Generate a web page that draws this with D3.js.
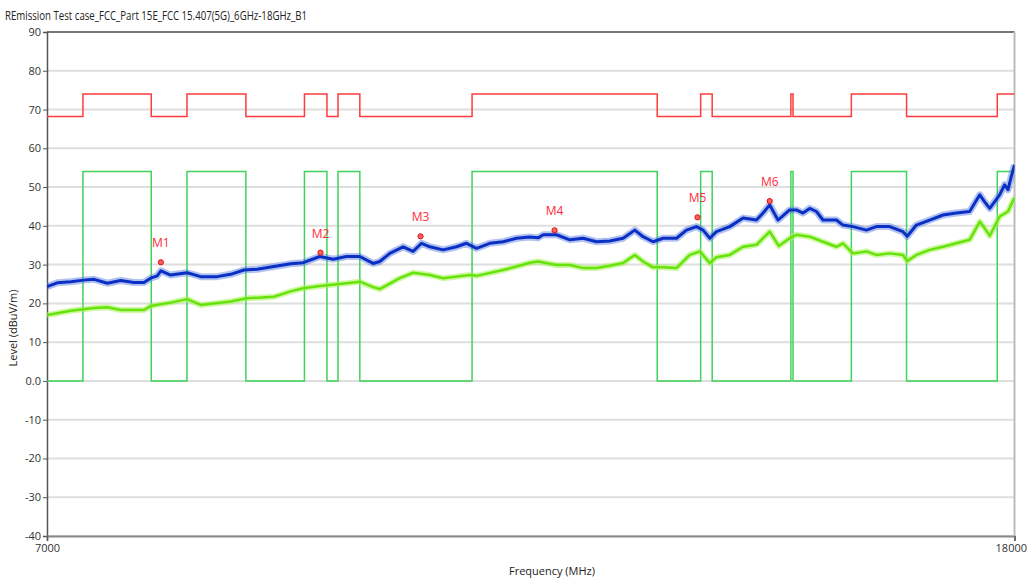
<!DOCTYPE html>
<html>
<head>
<meta charset="utf-8">
<script src="https://cdn.jsdelivr.net/npm/d3@7"></script>
<style>
  body { margin: 0; background: #fff; }
  svg { display: block; font-family: 'Open Sans', 'Noto Sans', sans-serif; }
</style>
</head>
<body>
<div id="graphContainer"></div>
<script>
// restricted band edges (MHz) and limit value per segment
const limitFreqs = [7000, 7250, 7750, 8025, 8500, 9000, 9200, 9300, 9500, 10600,
  12700, 13250, 13400, 14470, 14500, 15350, 16200, 17700, 18000];
const peakLimit = [68.2, 74, 68.2, 74, 68.2, 74, 68.2, 74, 68.2, 74, 68.2, 74, 68.2, 74, 68.2, 74, 68.2, 74];
const avgLimit = [0, 54, 0, 54, 0, 54, 0, 54, 0, 54, 0, 54, 0, 54, 0, 54, 0, 54];

// peak trace (blue)
const peakFreqs = [7000, 7070, 7165, 7255, 7330, 7425, 7522, 7620, 7695, 7745, 7795, 7823, 7898, 8027,
  8133, 8265, 8374, 8484, 8594, 8735, 8879, 8989, 9136, 9256, 9377, 9500, 9624, 9687, 9782, 9910,
  10007, 10090, 10172, 10305, 10440, 10543, 10646, 10785, 10926, 11070, 11214, 11306, 11362, 11511,
  11662, 11814, 11969, 12126, 12284, 12425, 12526, 12649, 12773, 12941, 13068, 13196, 13282, 13369,
  13456, 13632, 13810, 13992, 14082, 14174, 14289, 14453, 14548, 14642, 14738, 14835, 14931, 15127,
  15225, 15374, 15577, 15729, 15935, 16143, 16210, 16356, 16569, 16786, 17007, 17229, 17400, 17483,
  17570, 17741, 17828, 17885, 17943, 18000];
const peakLevels = [24.3, 25.3, 25.6, 26.0, 26.2, 25.2, 25.9, 25.4, 25.4, 26.5, 27.1, 28.4, 27.3, 27.9,
  26.9, 26.9, 27.5, 28.6, 28.8, 29.5, 30.2, 30.5, 32.1, 31.4, 32.1, 32.1, 30.3, 30.8, 32.9, 34.6,
  33.4, 35.5, 34.6, 33.8, 34.6, 35.5, 34.2, 35.5, 35.9, 36.8, 37.1, 36.9, 37.7, 37.7,
  36.4, 36.8, 35.9, 36.1, 36.8, 38.9, 37.2, 35.9, 36.8, 36.8, 38.9, 39.8, 38.9, 36.8,
  38.5, 39.8, 42.0, 41.5, 43.3, 45.4, 41.5, 44.1, 44.1, 43.3, 44.5, 43.7, 41.5, 41.5,
  40.2, 39.8, 38.9, 39.8, 39.8, 38.5, 37.3, 40.2, 41.5, 42.8, 43.3, 43.7, 48.0, 46.2,
  44.5, 48.0, 50.6, 49.3, 52.7, 55.7];

// average trace (green)
const avgFreqs = [7000, 7165, 7330, 7425, 7522, 7695, 7745, 7898, 8027, 8133, 8374, 8509, 8735, 8879,
  8989, 9136, 9377, 9500, 9624, 9687, 9878, 10007, 10172, 10305, 10577, 10646, 10926, 11070, 11214,
  11306, 11511, 11662, 11814, 11969, 12126, 12284, 12425, 12526, 12649, 12773, 12941, 13110, 13240,
  13369, 13456, 13632, 13810, 13992, 14174, 14300, 14453, 14548, 14738, 14931, 15127, 15225, 15374,
  15577, 15729, 15935, 16143, 16210, 16356, 16569, 16786, 17007, 17229, 17400, 17483, 17570, 17741,
  17885, 18000];
const avgLevels = [17.0, 18.1, 18.8, 19.0, 18.3, 18.3, 19.3, 20.2, 21.1, 19.6, 20.5, 21.3, 21.7, 23.1,
  23.9, 24.5, 25.2, 25.6, 24.2, 23.7, 26.5, 27.9, 27.3, 26.5, 27.3, 27.1, 28.6, 29.5, 30.5,
  30.8, 29.9, 29.9, 29.1, 29.1, 29.7, 30.4, 32.5, 30.8, 29.3, 29.3, 29.1, 32.5, 33.4,
  30.4, 31.9, 32.5, 34.6, 35.1, 38.5, 34.8, 36.8, 37.7, 37.2, 35.9, 34.6, 35.5, 32.9,
  33.4, 32.5, 32.9, 32.5, 30.9, 32.5, 33.8, 34.6, 35.5, 36.4, 41.1, 39.4, 37.4, 42.4,
  43.7, 47.3];

// markers
const markerNames = ['M1', 'M2', 'M3', 'M4', 'M5', 'M6'];
const markerFreqs = [7823, 9142, 10080, 11489, 13209, 14174];
const markerLevels = [30.6, 33.1, 37.3, 38.85, 42.2, 46.4];

// axis ticks
const levelTicks = [90, 80, 70, 60, 50, 40, 30, 20, 10, 0, -10, -20, -30, -40];
const levelTickLabels = ['90', '80', '70', '60', '50', '40', '30', '20', '10', '0.0', '-10', '-20', '-30', '-40'];
const freqTicks = [7000, 18000];

const width = 1027, height = 579;
const plot = {left: 47, right: 1014.5, top: 32, bottom: 536};

const svg = d3.select('#graphContainer').append('svg')
  .attr('width', width)
  .attr('height', height);

const x = d3.scaleLog().domain([7000, 18000]).range([plot.left, plot.right]);
const y = d3.scaleLinear().domain([-40, 90]).range([plot.bottom, plot.top]);

svg.append('defs').append('clipPath').attr('id', 'plotClip')
  .append('rect')
  .attr('x', plot.left).attr('y', plot.top)
  .attr('width', plot.right - plot.left).attr('height', plot.bottom - plot.top);

// title
svg.append('text')
  .attr('x', 5).attr('y', 20)
  .attr('font-size', 12)
  .attr('fill', '#222')
  .attr('textLength', 302)
  .attr('lengthAdjust', 'spacingAndGlyphs')
  .text('REmission Test case_FCC_Part 15E_FCC 15.407(5G)_6GHz-18GHz_B1');

// horizontal grid
svg.append('g')
  .selectAll('line')
  .data(levelTicks)
  .enter()
  .append('line')
  .attr('x1', plot.left).attr('x2', plot.right)
  .attr('y1', d => y(d)).attr('y2', d => y(d))
  .attr('stroke', '#dedede')
  .attr('stroke-width', 2);

// y axis
const yAxis = d3.axisLeft(y)
  .tickValues(levelTicks)
  .tickFormat((d, i) => levelTickLabels[i])
  .tickSize(4)
  .tickPadding(2);
const yG = svg.append('g')
  .attr('transform', `translate(${plot.left},0)`)
  .call(yAxis);
yG.select('.domain').attr('stroke', '#555').attr('stroke-width', 1.5);
yG.selectAll('.tick line').attr('stroke', '#555');
yG.selectAll('.tick text').attr('font-size', 11).attr('fill', '#333').style('font-family', 'Open Sans, sans-serif');

// x axis
const xAxis = d3.axisBottom(x)
  .tickValues(freqTicks)
  .tickFormat(d3.format('d'))
  .tickSize(5)
  .tickPadding(3);
const xG = svg.append('g')
  .attr('transform', `translate(0,${plot.bottom})`)
  .call(xAxis);
xG.select('.domain').attr('stroke', '#888').attr('stroke-width', 2);
xG.selectAll('.tick line').attr('stroke', '#555');
xG.selectAll('.tick text').attr('font-size', 11).attr('fill', '#333').style('font-family', 'Open Sans, sans-serif');
// keep the last label inside the window
xG.selectAll('.tick text').filter(d => d === 18000)
  .attr('text-anchor', 'end')
  .attr('dx', 12);

// frame top + right
svg.append('line')
  .attr('x1', plot.left).attr('x2', plot.right)
  .attr('y1', plot.top).attr('y2', plot.top)
  .attr('stroke', '#555').attr('stroke-width', 1.5);
svg.append('line')
  .attr('x1', plot.right).attr('x2', plot.right)
  .attr('y1', plot.top).attr('y2', plot.bottom)
  .attr('stroke', '#bbb').attr('stroke-width', 2);

// axis titles
svg.append('text')
  .attr('x', 552).attr('y', 575)
  .attr('text-anchor', 'middle')
  .attr('font-size', 11)
  .attr('fill', '#222')
  .text('Frequency (MHz)');
svg.append('text')
  .attr('transform', 'translate(17,328) rotate(-90)')
  .attr('text-anchor', 'middle')
  .attr('font-size', 11)
  .attr('fill', '#222')
  .text('Level (dBuV/m)');

const chartG = svg.append('g').attr('clip-path', 'url(#plotClip)');

// step limits: repeat the last value so the final segment closes at 18000
function stepPoints(values) {
  return limitFreqs.map((f, i) => [f, values[Math.min(i, values.length - 1)]]);
}
const stepLine = d3.line()
  .x(d => x(d[0]))
  .y(d => y(d[1]))
  .curve(d3.curveStepAfter);

chartG.append('path')
  .attr('d', stepLine(stepPoints(avgLimit)))
  .attr('fill', 'none')
  .attr('stroke', '#3fd35a')
  .attr('stroke-width', 1.5);
chartG.append('path')
  .attr('d', stepLine(stepPoints(peakLimit)))
  .attr('fill', 'none')
  .attr('stroke', '#ff3b3b')
  .attr('stroke-width', 1.5);

// traces: a pale band under a darker core
const traceLine = d3.line()
  .x(d => x(d[0]))
  .y(d => y(d[1]));
const avgPts = avgFreqs.map((f, i) => [f, avgLevels[i]]);
const peakPts = peakFreqs.map((f, i) => [f, peakLevels[i]]);

chartG.append('path')
  .attr('d', traceLine(avgPts))
  .attr('fill', 'none')
  .attr('stroke', '#a6f25a')
  .attr('stroke-width', 6)
  .attr('stroke-linejoin', 'round')
  .attr('opacity', 0.55);
chartG.append('path')
  .attr('d', traceLine(avgPts))
  .attr('fill', 'none')
  .attr('stroke', '#66e30a')
  .attr('stroke-width', 2.5)
  .attr('stroke-linejoin', 'round');

chartG.append('path')
  .attr('d', traceLine(peakPts))
  .attr('fill', 'none')
  .attr('stroke', '#5577dd')
  .attr('stroke-width', 7)
  .attr('stroke-linejoin', 'round')
  .attr('opacity', 0.45);
chartG.append('path')
  .attr('d', traceLine(peakPts))
  .attr('fill', 'none')
  .attr('stroke', '#0a2fc4')
  .attr('stroke-width', 3)
  .attr('stroke-linejoin', 'round');

// markers
const markerG = svg.append('g')
  .selectAll('g')
  .data(markerNames)
  .enter()
  .append('g')
  .attr('transform', (d, i) => `translate(${x(markerFreqs[i])},${y(markerLevels[i])})`);
markerG.append('circle')
  .attr('r', 2.6)
  .attr('fill', '#ff6060')
  .attr('stroke', '#e01010')
  .attr('stroke-width', 1);
markerG.append('text')
  .attr('y', -15)
  .attr('text-anchor', 'middle')
  .attr('font-size', 12)
  .attr('fill', '#ff2a3a')
  .text(d => d);
</script>
</body>
</html>
